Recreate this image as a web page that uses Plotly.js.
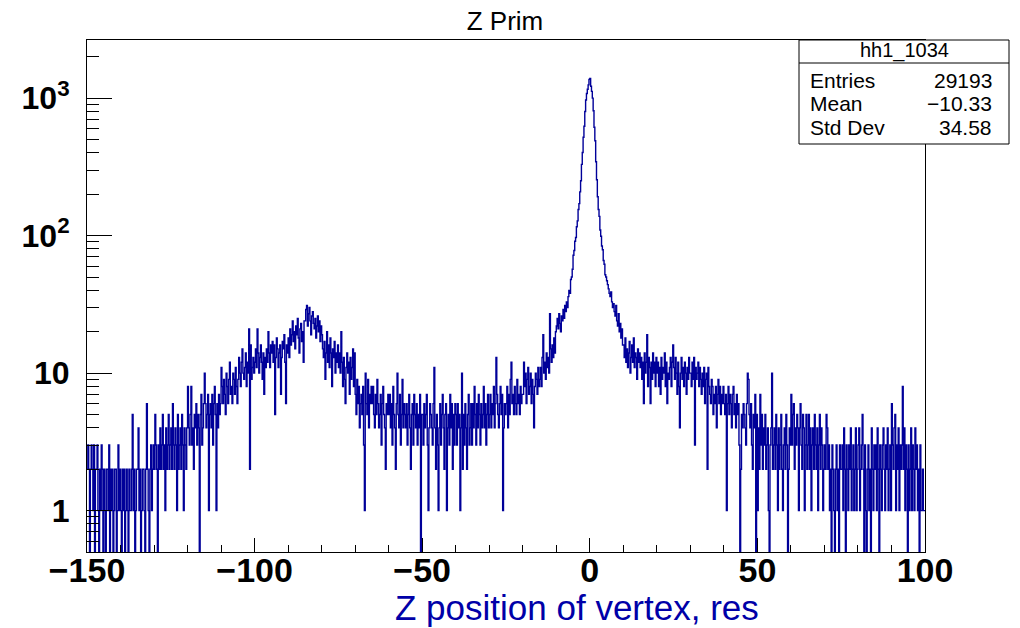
<!DOCTYPE html>
<html><head><meta charset="utf-8">
<script src="https://cdn.plot.ly/plotly-3.0.1.min.js"></script>
<style>html,body{margin:0;padding:0;background:#fff}#chart{width:1020px;height:628px}</style>
</head><body><div id="chart"></div>
<script>
// Histogram definition: 1000 bins from -150 to 100
const xMin = -150, xMax = 100, binWidth = 0.25;

// Bin contents (each row = 5 units = 20 bins)
const countsA = [ // -150 .. -100
  2,3,2,0,2,3,2,1,3,0,2,2,3,1,0,2,1,3,2,0,
  2,1,0,2,2,1,3,0,2,1,2,0,1,2,2,0,1,3,1,2,
  1,0,2,1,2,0,1,2,1,0,2,1,1,2,5,1,2,0,1,2,
  2,4,1,2,0,1,2,2,1,0,2,6,2,1,0,2,3,1,2,3,
  2,5,3,2,0,3,2,4,2,3,5,2,3,1,4,2,3,5,2,3,
  4,2,6,3,2,4,3,1,5,2,3,4,2,5,3,1,4,3,2,4,
  8,4,3,5,8,3,4,2,5,4,6,3,5,4,0,5,7,3,4,6,
  10,6,4,5,7,1,5,6,4,7,3,6,8,5,1,6,4,7,5,6,
  11,8,6,9,7,5,10,8,6,9,12,7,8,6,10,9,7,11,8,6,
  9,13,10,8,12,15,10,9,11,14,8,12,10,21,2,16,9,11,13,10
];
const countsB = [ // -100 .. -50
  12,15,11,21,14,10,13,16,12,9,14,7,13,11,15,12,20,14,11,16,
  14,17,12,16,5,13,18,15,11,14,16,7,13,17,15,19,12,6,16,14,
  18,13,21,16,19,24,17,20,15,22,19,25,18,14,21,23,17,20,12,24,
  24,29,31,22,27,30,24,19,26,28,23,21,25,18,22,26,20,24,17,22,
  19,15,13,17,9,14,20,12,16,11,18,14,8,15,13,17,10,14,12,16,
  11,14,10,20,12,8,13,9,6,11,14,10,12,7,13,9,11,15,8,14,
  7,5,9,6,8,4,6,7,5,8,3,1,10,6,5,9,4,7,6,8,
  6,8,5,4,7,5,9,6,4,5,7,3,6,8,5,4,2,6,5,7,
  5,7,4,6,3,8,5,4,2,6,10,5,4,7,3,5,9,4,6,5,
  4,6,3,5,7,4,2,5,6,3,7,5,4,6,3,5,4,7,0,5
];
const countsC = [ // -50 .. 0
  5,3,6,4,5,7,3,1,4,6,5,4,3,6,11,4,2,5,3,1,
  4,6,3,5,7,4,2,5,6,1,4,5,3,7,4,6,2,5,3,6,
  5,3,6,4,5,1,4,10,2,5,3,6,4,2,5,7,3,4,6,3,
  6,4,8,5,3,6,4,7,5,3,6,4,5,8,4,6,3,5,7,4,
  5,7,4,6,5,8,4,6,13,7,5,4,6,8,5,7,1,4,6,5,
  6,8,4,7,5,9,12,6,7,5,8,6,5,9,6,7,5,8,6,7,
  7,12,8,10,6,9,11,7,8,10,6,9,7,4,8,10,9,7,11,8,
  9,11,8,13,19,10,12,9,14,11,13,10,27,15,12,16,13,18,14,20,
  22,25,21,27,23,20,26,24,29,25,31,28,33,30,36,40,38,48,50,57,
  72,78,91,97,116,128,155,171,208,251,330,402,520,625,800,970,1080,1160,1250,1370
];
const countsD = [ // 0 .. 50
  1390,1220,1120,1000,810,615,490,345,255,192,155,138,110,99,84,79,66,62,52,50,
  47,44,41,38,36,39,33,30,32,28,26,31,24,22,27,20,23,18,21,16,
  16,13,18,12,15,11,14,17,10,13,16,12,18,11,14,13,9,15,12,14,
  11,13,9,12,6,14,10,12,19,8,13,11,6,12,9,14,10,12,8,13,
  10,12,8,11,7,13,9,11,10,14,8,12,6,10,9,11,13,8,12,16,
  11,9,13,10,7,12,8,4,10,13,9,11,8,12,10,7,11,9,13,10,
  10,8,12,9,13,3,11,9,10,12,8,11,9,7,10,8,11,6,9,10,
  2,11,8,7,6,9,8,5,7,6,8,4,7,9,6,8,5,7,6,8,
  6,5,7,1,6,8,5,7,6,4,7,8,5,6,4,7,5,6,3,0,
  2,5,4,6,5,4,3,6,10,9,5,4,6,3,2,5,4,7,0,5
];
const countsE = [ // 50 .. 100
  1,4,2,7,3,5,2,4,3,5,2,3,4,1,0,3,4,10,2,3,
  4,2,5,3,1,4,2,3,5,2,1,3,4,2,5,3,0,2,4,3,
  7,3,5,6,2,4,3,5,4,1,4,6,3,2,5,4,1,3,5,2,
  3,5,2,4,1,3,4,2,5,3,2,4,1,3,5,2,4,3,1,2,
  3,2,5,4,2,3,1,2,0,3,2,1,0,2,3,1,2,0,3,2,
  2,3,1,4,2,0,3,2,1,3,2,4,1,2,3,1,2,4,1,2,
  3,4,1,2,3,5,2,0,3,1,0,2,3,1,2,0,4,2,1,3,
  2,3,1,4,2,0,3,2,1,3,4,2,1,3,2,4,1,2,3,1,
  6,3,2,4,5,1,3,2,4,1,3,2,3,8,2,4,1,3,2,0,
  3,1,2,4,1,3,2,1,4,2,3,1,2,0,3,1,1,2,1,1
];

const xTickVals = [-150, -100, -50, 0, 50, 100];
const xTickText = ['\u2212150', '\u2212100', '\u221250', '0', '50', '100'];
const yTickVals = [1, 10, 100, 1000];
const yTickText = ['1', '10', '10<sup>2</sup>', '10<sup>3</sup>'];
const yMinorVals = [0.6,0.7,0.8,0.9,2,3,4,5,6,7,8,9,20,30,40,50,60,70,80,90,200,300,400,500,600,700,800,900,2000];

const histName = 'hh1_1034';
const statsLabels = ['Entries', 'Mean', 'Std Dev'];
const statsValues = ['29193', '\u221210.33', '34.58'];

const counts = [].concat(countsA, countsB, countsC, countsD, countsE);
const xs = counts.map((_, i) => xMin + i * binWidth).concat([xMax]);
// empty bins are drawn down to the bottom of the frame, as ROOT does
const ys = counts.concat([counts[counts.length - 1]]).map(v => v > 0 ? v : 0.05);

const W = 1020, H = 628, L = 87, R = 925, T = 40, B = 552;
const px = x => (x - L) / (R - L);
const py = y => (B - y) / (B - T);

const trace = {
  type: 'scatter', mode: 'lines', x: xs, y: ys,
  line: {shape: 'hv', color: '#000099', width: 1.4},
  hoverinfo: 'skip'
};

const font = 'Liberation Sans, Arial, Helvetica, sans-serif';
const annotations = [
  {text: 'Z position of vertex, res', xref: 'paper', yref: 'paper', x: px(577), y: py(607),
   xanchor: 'center', yanchor: 'middle', showarrow: false,
   font: {family: font, size: 35, color: '#0000a8'}},
  {text: histName, xref: 'paper', yref: 'paper', x: px(904), y: py(50),
   xanchor: 'center', yanchor: 'middle', showarrow: false, font: {family: font, size: 20, color: '#000'}}
];
const rowY = [80, 103, 127];
statsLabels.forEach((lab, i) => {
  annotations.push({text: lab, xref: 'paper', yref: 'paper', x: px(808), y: py(rowY[i]),
    xanchor: 'left', yanchor: 'middle', showarrow: false, font: {family: font, size: 21, color: '#000'}});
  annotations.push({text: statsValues[i], xref: 'paper', yref: 'paper', x: px(994), y: py(rowY[i]),
    xanchor: 'right', yanchor: 'middle', showarrow: false, font: {family: font, size: 21, color: '#000'}});
});

const layout = {
  width: W, height: H,
  margin: {l: L, r: W - R, t: T, b: H - B, pad: 0},
  paper_bgcolor: '#fff', plot_bgcolor: '#fff', showlegend: false,
  title: {text: 'Z Prim', x: 505 / W, xanchor: 'center', y: 1 - 21 / H, yanchor: 'middle',
          font: {family: font, size: 26, color: '#000'}},
  xaxis: {
    range: [xMin, xMax], tickmode: 'array', tickvals: xTickVals, ticktext: xTickText,
    ticks: 'inside', ticklen: 14, tickwidth: 1, tickcolor: '#000',
    showline: true, linecolor: '#000', linewidth: 1, mirror: true,
    showgrid: false, zeroline: false, ticklabelstandoff: -12,
    tickfont: {family: font, size: 34, weight: 'bold', color: '#000'},
    minor: {dtick: 10, tick0: 0, ticks: 'inside', ticklen: 7, tickwidth: 1, tickcolor: '#000', showgrid: false}
  },
  yaxis: {
    type: 'log', range: [Math.log10(0.5), 3.423], tickmode: 'array', tickvals: yTickVals, ticktext: yTickText,
    ticks: 'inside', ticklen: 25, tickwidth: 1, tickcolor: '#000',
    showline: true, linecolor: '#000', linewidth: 1, mirror: true,
    showgrid: false, zeroline: false, ticklabelstandoff: 10,
    tickfont: {family: font, size: 32, weight: 'bold', color: '#000'},
    minor: {tickmode: 'array', tickvals: yMinorVals, ticks: 'inside', ticklen: 12, tickwidth: 1, tickcolor: '#000', showgrid: false}
  },
  shapes: [
    {type: 'rect', xref: 'paper', yref: 'paper', x0: px(799), x1: px(1009), y0: py(144), y1: py(40),
     line: {color: '#000', width: 1}, fillcolor: '#fff', layer: 'above'},
    {type: 'line', xref: 'paper', yref: 'paper', x0: px(799), x1: px(1009), y0: py(63), y1: py(63),
     line: {color: '#000', width: 1}, layer: 'above'}
  ],
  annotations: annotations
};

Plotly.newPlot('chart', [trace], layout, {staticPlot: true, displayModeBar: false});
</script>
</body></html>
